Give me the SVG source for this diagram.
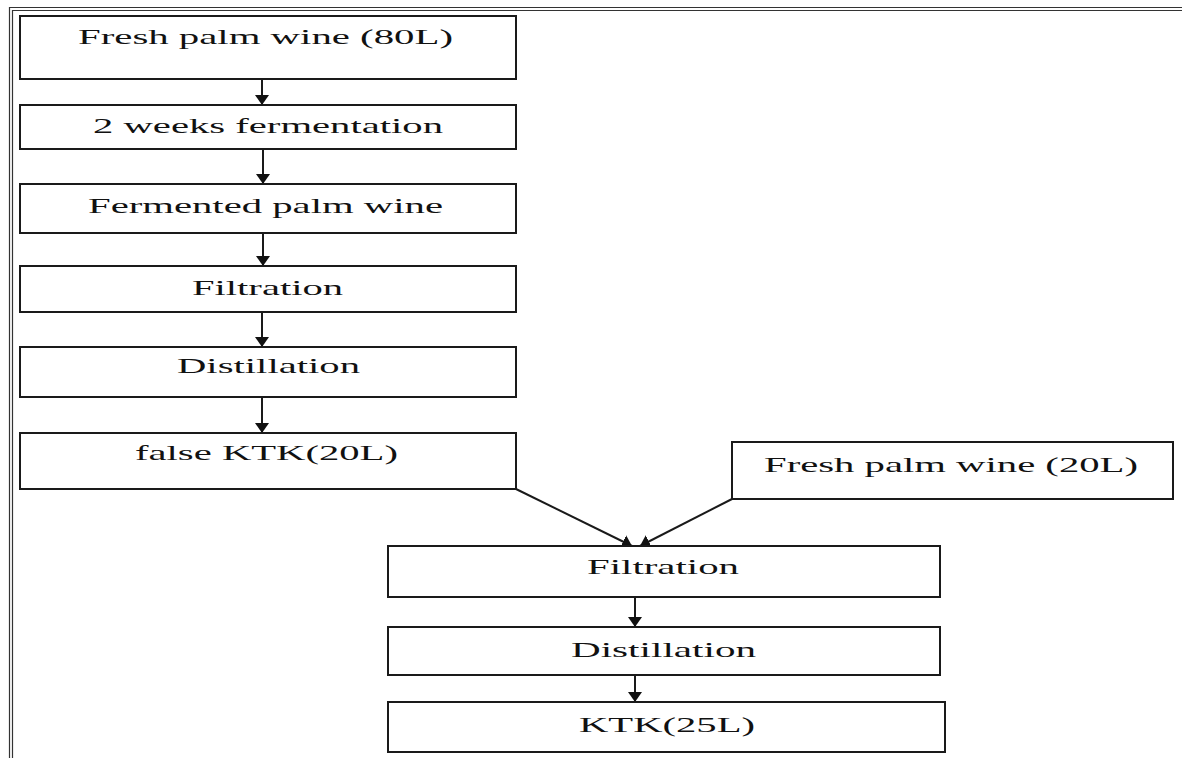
<svg xmlns="http://www.w3.org/2000/svg" width="1182" height="758" viewBox="0 0 1182 758">
<style>
.box{fill:#fff;stroke:#1a1a1a;stroke-width:2}
.lbl{font-family:"Liberation Serif","Times New Roman",serif;font-size:22px;fill:#111}
.con{stroke:#1a1a1a;stroke-width:2;fill:none}
.frame{stroke:#333;stroke-width:1.2;fill:none}
</style>
<defs>
<marker id="ah" markerUnits="userSpaceOnUse" markerWidth="11" markerHeight="14" refX="10" refY="7" orient="auto">
<path d="M0,0 L10,7 L0,14 z" fill="#111"/>
</marker>
</defs>
<rect width="1182" height="758" fill="#fff"/>
<g id="frame">
<path class="frame" d="M9.5,758 V7.5 H1182"/>
<path class="frame" d="M12.5,758 V10.5 H1182"/>
</g>
<g id="connectors">
<line class="con" x1="262" y1="79" x2="262" y2="105" marker-end="url(#ah)"/>
<line class="con" x1="263" y1="149" x2="263" y2="184" marker-end="url(#ah)"/>
<line class="con" x1="263" y1="233" x2="263" y2="266" marker-end="url(#ah)"/>
<line class="con" x1="262" y1="312" x2="262" y2="347" marker-end="url(#ah)"/>
<line class="con" x1="262" y1="397" x2="262" y2="433" marker-end="url(#ah)"/>
<line class="con" x1="516" y1="489" x2="632" y2="546" marker-end="url(#ah)"/>
<line class="con" x1="732" y1="499" x2="640" y2="546" marker-end="url(#ah)"/>
<line class="con" x1="635" y1="597" x2="635" y2="627" marker-end="url(#ah)"/>
<line class="con" x1="635" y1="675" x2="635" y2="702" marker-end="url(#ah)"/>
</g>
<g id="n1"><rect class="box" x="20" y="16" width="496" height="63"/><text class="lbl" x="78" y="44" textLength="375" lengthAdjust="spacingAndGlyphs">Fresh palm wine (80L)</text></g>
<g id="n2"><rect class="box" x="20" y="105" width="496" height="44"/><text class="lbl" x="93" y="133" textLength="350" lengthAdjust="spacingAndGlyphs">2 weeks fermentation</text></g>
<g id="n3"><rect class="box" x="20" y="184" width="496" height="49"/><text class="lbl" x="88" y="213" textLength="355" lengthAdjust="spacingAndGlyphs">Fermented palm wine</text></g>
<g id="n4"><rect class="box" x="20" y="266" width="496" height="46"/><text class="lbl" x="192" y="295" textLength="151" lengthAdjust="spacingAndGlyphs">Filtration</text></g>
<g id="n5"><rect class="box" x="20" y="347" width="496" height="50"/><text class="lbl" x="177" y="373" textLength="183" lengthAdjust="spacingAndGlyphs">Distillation</text></g>
<g id="n6"><rect class="box" x="20" y="433" width="496" height="56"/><text class="lbl" x="135" y="460" textLength="263" lengthAdjust="spacingAndGlyphs">false KTK(20L)</text></g>
<g id="n7"><rect class="box" x="732" y="442" width="441" height="57"/><text class="lbl" x="764" y="472" textLength="374" lengthAdjust="spacingAndGlyphs">Fresh palm wine (20L)</text></g>
<g id="n8"><rect class="box" x="388" y="546" width="552" height="51"/><text class="lbl" x="587" y="574" textLength="152" lengthAdjust="spacingAndGlyphs">Filtration</text></g>
<g id="n9"><rect class="box" x="388" y="627" width="552" height="48"/><text class="lbl" x="571" y="657" textLength="185" lengthAdjust="spacingAndGlyphs">Distillation</text></g>
<g id="n10"><rect class="box" x="388" y="702" width="557" height="50"/><text class="lbl" x="579" y="732" textLength="176" lengthAdjust="spacingAndGlyphs">KTK(25L)</text></g>
</svg>
